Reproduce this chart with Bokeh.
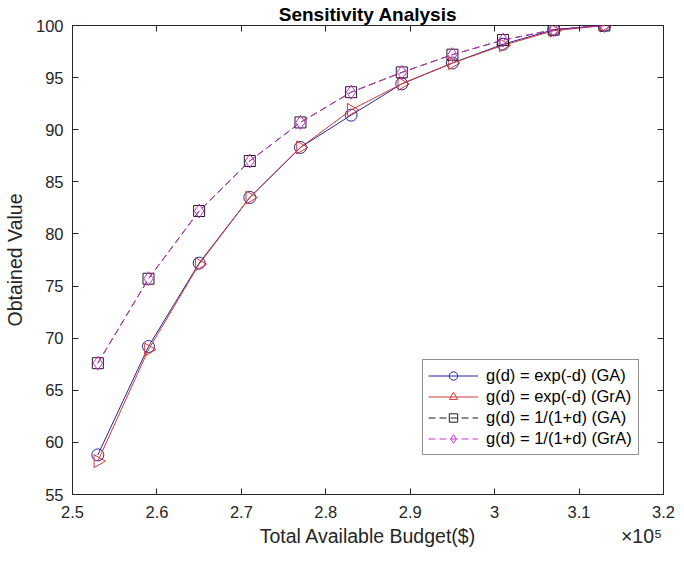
import numpy as np
from bokeh.plotting import figure
from bokeh.models import Range1d, LinearAxis, FixedTicker, Legend, LegendItem
from bokeh.embed import file_html
from bokeh.resources import INLINE

# ---- data ----
budget = [2.53, 2.59, 2.65, 2.71, 2.77, 2.83, 2.89, 2.95, 3.01, 3.07, 3.13]  # x 10^5
exp_ga = [58.8, 69.2, 77.2, 83.5, 88.3, 91.4, 94.4, 96.4, 98.2, 99.6, 100.0]
exp_gra = [58.2, 68.9, 77.1, 83.5, 88.3, 91.9, 94.4, 96.4, 98.1, 99.5, 100.0]
inv_ga = [67.6, 75.7, 82.2, 87.0, 90.7, 93.6, 95.5, 97.2, 98.6, 99.6, 100.0]
inv_gra = [67.6, 75.7, 82.2, 87.0, 90.7, 93.6, 95.5, 97.2, 98.6, 99.6, 100.0]
names = ["g(d) = exp(-d) (GA)", "g(d) = exp(-d) (GrA)",
         "g(d) = 1/(1+d) (GA)", "g(d) = 1/(1+d) (GrA)"]
x_ticks = [2.5, 2.6, 2.7, 2.8, 2.9, 3.0, 3.1, 3.2]
x_tick_labels = ["2.5", "2.6", "2.7", "2.8", "2.9", "3", "3.1", "3.2"]
y_ticks = [55, 60, 65, 70, 75, 80, 85, 90, 95, 100]
x_title = "Total Available Budget($)"
x_exponent = "×10⁵"
y_title = "Obtained Value"
chart_title = "Sensitivity Analysis"

FONT = "Liberation Sans"
TXT = "#262626"
x_lo, x_hi = x_ticks[0], x_ticks[-1]

p = figure(width=676, height=555,
           output_backend="svg", toolbar_location=None,
           x_range=Range1d(x_lo, x_hi), y_range=Range1d(y_ticks[0], y_ticks[-1]),
           min_border_left=68, min_border_right=13, min_border_top=24, min_border_bottom=61,
           title=chart_title)
p.title.align = "center"
p.title.text_font = FONT
p.title.text_font_size = "19px"
p.title.text_font_style = "bold"
p.title.text_color = "black"
p.title.standoff = 2
p.xgrid.visible = False
p.ygrid.visible = False
p.outline_line_color = TXT
p.outline_line_width = 1
p.background_fill_color = "white"
p.border_fill_color = "white"

for ax in (p.xaxis[0], p.yaxis[0]):
    ax.major_tick_in = 6
    ax.major_tick_out = 0
    ax.minor_tick_in = 0
    ax.minor_tick_out = 0
    ax.axis_line_color = TXT
    ax.major_tick_line_color = TXT
    ax.major_label_text_font = FONT
    ax.major_label_text_font_size = "16.5px"
    ax.major_label_text_color = TXT
    ax.axis_label_text_font = FONT
    ax.axis_label_text_font_size = "19.5px"
    ax.axis_label_text_font_style = "normal"
    ax.axis_label_text_color = TXT

p.xaxis[0].ticker = FixedTicker(ticks=x_ticks)
p.xaxis[0].major_label_overrides = {t: l for t, l in zip(x_ticks, x_tick_labels)}
p.yaxis[0].ticker = FixedTicker(ticks=y_ticks)
p.yaxis[0].axis_label = y_title
p.xaxis[0].major_label_standoff = 11
p.yaxis[0].major_label_standoff = 9
p.yaxis[0].axis_label_standoff = 7

# x title and the x10^5 exponent share one row under the tick labels
mid = (x_lo + x_hi) / 2
expo_pos = x_hi - 0.026
xt = LinearAxis(ticker=FixedTicker(ticks=[mid, expo_pos]),
                major_label_overrides={mid: x_title, expo_pos: x_exponent},
                major_tick_in=0, major_tick_out=0, minor_tick_in=0, minor_tick_out=0,
                axis_line_color=None, major_label_standoff=4,
                major_label_text_font=FONT, major_label_text_font_size="19.5px",
                major_label_text_color=TXT)
p.add_layout(xt, "below")

# inward ticks on the top and right edges (no labels)
top = LinearAxis(ticker=FixedTicker(ticks=[], minor_ticks=x_ticks),
                 major_tick_in=0, major_tick_out=0, minor_tick_in=6, minor_tick_out=0,
                 axis_line_color=None, minor_tick_line_color=TXT, major_label_standoff=0)
right = LinearAxis(ticker=FixedTicker(ticks=[], minor_ticks=y_ticks),
                   major_tick_in=0, major_tick_out=0, minor_tick_in=6, minor_tick_out=0,
                   axis_line_color=None, minor_tick_line_color=TXT, major_label_standoff=0)
p.add_layout(top, "above")
p.add_layout(right, "right")

series = [
    (exp_ga, "#24249a", "solid", "circle", 0.0, 12),
    (exp_gra, "#d03a3a", "solid", "triangle", -np.pi / 2, 13),
    (inv_ga, "#1a1a1a", "dashed", "square", 0.0, 11),
    (inv_gra, "#cc33cc", "dashed", "diamond", 0.0, 14),
]
items = []
for (vals, col, dash, marker, ang, sz), name in zip(series, names):
    r1 = p.line(budget, vals, line_color=col, line_width=1,
                line_dash="7 4" if dash == "dashed" else "solid")
    r2 = p.scatter(budget, vals, marker=marker, size=sz, angle=ang, fill_color=None,
                   line_color=col, line_width=1)
    items.append(LegendItem(label=name, renderers=[r1, r2]))

legend = Legend(items=items, location=(350, 39))
legend.label_text_font = FONT
legend.label_text_font_size = "16.5px"
legend.label_text_color = "black"
legend.border_line_color = TXT
legend.border_line_width = 1
legend.background_fill_alpha = 1
legend.glyph_width = 50
legend.glyph_height = 21
legend.label_height = 21
legend.label_width = 147
legend.label_standoff = 8
legend.padding = 5
legend.spacing = 0
legend.margin = 0
p.add_layout(legend, "center")

open("out.html", "w").write(file_html(p, INLINE))
